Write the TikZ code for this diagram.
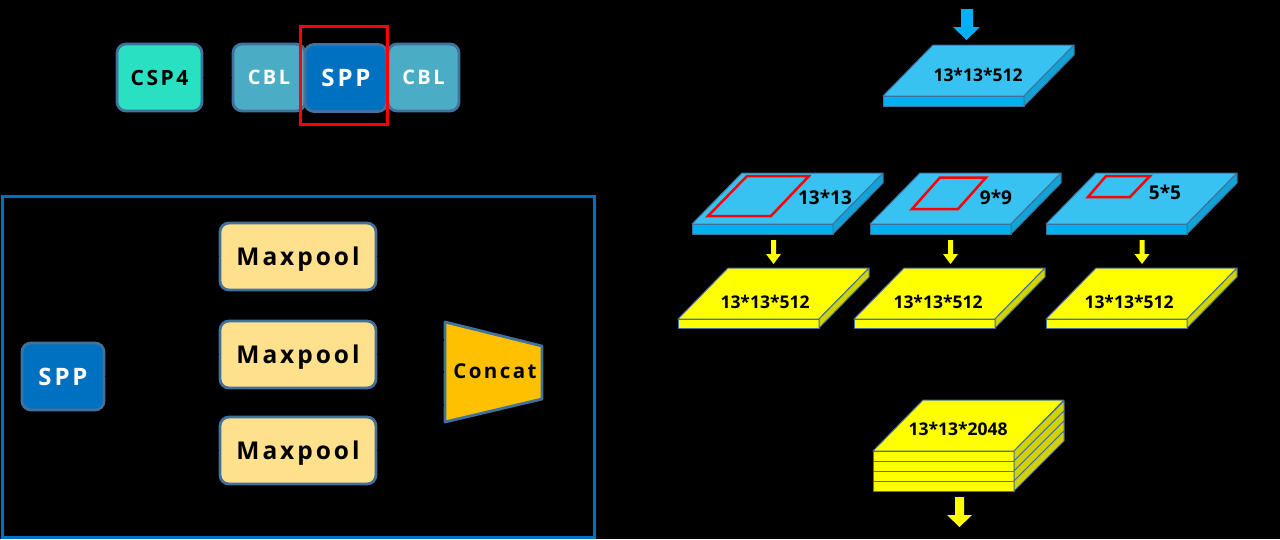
\documentclass[tikz,border=0pt]{standalone}
\usepackage{fontspec}
\setmainfont{Open Sans}
\newfontfamily\spacedfont[LetterSpace=12]{Open Sans}
\definecolor{edgeblue}{HTML}{41719C}
\definecolor{cspfill}{HTML}{2AE0C2}
\definecolor{cblfill}{HTML}{4BACC6}
\definecolor{sppfill}{HTML}{0070C0}
\definecolor{mpfill}{HTML}{FFE08C}
\definecolor{catfill}{HTML}{FFC000}
\definecolor{ltop}{HTML}{38C2F2}
\definecolor{lfront}{HTML}{00B0F0}
\definecolor{lside}{HTML}{12A2D8}
\definecolor{ytop}{HTML}{FFFF00}
\definecolor{yfront}{HTML}{FFFF00}
\definecolor{yside}{HTML}{D2D200}
\definecolor{arrowblue}{HTML}{00B0F0}
\tikzset{
  blk/.style={draw=edgeblue, line width=2.8pt, rounded corners=9pt, minimum height=67pt, inner sep=0pt},
  cspbox/.style={blk, fill=cspfill, minimum width=85pt, text=black, font=\spacedfont\bfseries\fontsize{21}{24}\selectfont},
  cblbox/.style={blk, fill=cblfill, minimum width=72pt, text=white, font=\spacedfont\bfseries\fontsize{20}{24}\selectfont},
  sppbox/.style={blk, fill=sppfill, minimum width=82pt, text=white, font=\spacedfont\bfseries\fontsize{24}{28}\selectfont},
  mpbox/.style={blk, fill=mpfill, minimum width=156pt, text=black, text height=17.5pt, text depth=0pt, font=\spacedfont\bfseries\fontsize{24.5}{28}\selectfont},
  cattxt/.style={inner sep=0pt, text=black, font=\spacedfont\bfseries\fontsize{20.5}{24}\selectfont},
  dimtxt/.style={inner sep=0pt, text=black, font=\bfseries\fontsize{17.5}{20}\selectfont},
  sizetxt/.style={inner sep=0pt, text=black, font=\bfseries\fontsize{19}{22}\selectfont},
  slabedge/.style={draw=edgeblue, line width=1pt, line join=round},
  conn/.style={draw=black, line width=1.5pt},
  redmark/.style={draw=red, line width=2.5pt},
}
% #1 x of front-left, #2 y of top edge, #3 top fill, #4 front fill, #5 side fill, #6 thickness
\newcommand\slabdraw[6]{%
  \filldraw[slabedge, fill=#3] ({#1+50},#2) -- ({#1+191},#2) -- ({#1+141},{#2+51}) -- (#1,{#2+51}) -- cycle;
  \filldraw[slabedge, fill=#4] (#1,{#2+51}) rectangle ({#1+141},{#2+51+#6});
  \filldraw[slabedge, fill=#5] ({#1+141},{#2+51}) -- ({#1+191},#2) -- ({#1+191},{#2+#6}) -- ({#1+141},{#2+51+#6}) -- cycle;
}
\newcommand\stackslab[1]{% #1 y of top of this slab
  \filldraw[slabedge, fill=yfront] (873,#1) rectangle (1014,{#1+10});
  \filldraw[slabedge, fill=yside] (1014,#1) -- (1064,{#1-50}) -- (1064,{#1-40}) -- (1014,{#1+10}) -- cycle;
}
\begin{document}
\begin{tikzpicture}[x=1pt,y=-1pt]
\useasboundingbox (0,0) rectangle (1280,539);
\fill[black] (0,0) rectangle (1280,539);

% ---- top row ----
\node[cspbox] (csp) at (159.5,77.5) {CSP4};
\node[cblbox] (cbla) at (269,77.5) {CBL};
\node[cblbox, minimum width=71pt] (cblb) at (423.5,77.5) {CBL};
\node[sppbox] (sppa) at (346,78) {SPP};
\draw[conn] (csp.east) -- (cbla.west);
\draw[draw=red, line width=3pt] (300,26) rectangle (387,124);

% ---- left panel ----
\draw[draw=sppfill, line width=3pt] (2,196) rectangle (594,537);
\node[sppbox] (sppb) at (63,376.5) {SPP};
\node[mpbox] (mpa) at (298,256.5) {Maxpool};
\node[mpbox] (mpb) at (298,354.5) {Maxpool};
\node[mpbox] (mpc) at (298,450.5) {Maxpool};
\filldraw[draw=edgeblue, line width=2.8pt, line join=round, fill=catfill]
  (445,322) -- (542,346) -- (542,399) -- (445,422) -- cycle;
\node[cattxt] (cat) at (495,371) {Concat};
\coordinate (cina) at (444,340);
\coordinate (cinb) at (444,372);
\coordinate (cinc) at (444,405);
\draw[conn] (sppb.east) -- (160,376.5) |- (mpa.west);
\draw[conn] (sppb.east) -- (160,376.5) |- (mpb.west);
\draw[conn] (sppb.east) -- (160,376.5) |- (mpc.west);
\draw[conn] (mpa.east) -- (410,256.5) |- (cina);
\draw[conn] (mpb.east) -- (410,354.5) |- (cinb);
\draw[conn] (mpc.east) -- (410,450.5) |- (cinc);

% ---- right side: input layer ----
\fill[arrowblue] (961,9) -- (973,9) -- (973,27) -- (980,27) -- (966.5,40) -- (953,27) -- (961,27) -- cycle;
\slabdraw{883}{45}{ltop}{lfront}{lside}{10}
\node[dimtxt] (tin) at (978,75) {13*13*512};

% ---- pooling layers ----
\slabdraw{692}{173}{ltop}{lfront}{lside}{10}
\slabdraw{870}{173}{ltop}{lfront}{lside}{10}
\slabdraw{1046}{173}{ltop}{lfront}{lside}{10}
\draw[redmark, line join=miter] (747,176) -- (809,176) -- (771,216) -- (708,216) -- cycle;
\draw[redmark, line join=miter] (940,177.5) -- (986,177.5) -- (958,209) -- (912,209) -- cycle;
\draw[redmark, line join=miter] (1106,176) -- (1150,176) -- (1130,197) -- (1088,197) -- cycle;
\node[sizetxt] (pa) at (825,197) {13*13};
\node[sizetxt] (pb) at (996,197) {9*9};
\node[sizetxt] (pc) at (1165,192) {5*5};

% ---- small arrows ----
\foreach \cx in {773.5,950.5,1142} {
  \fill[ytop] ({\cx-2.5},240) -- ({\cx+2.5},240) -- ({\cx+2.5},254) -- ({\cx+7.5},254) -- (\cx,264) -- ({\cx-7.5},254) -- ({\cx-2.5},254) -- cycle;
}

% ---- yellow outputs ----
\slabdraw{678}{268}{ytop}{yfront}{yside}{9}
\slabdraw{854}{268}{ytop}{yfront}{yside}{9}
\slabdraw{1046}{268}{ytop}{yfront}{yside}{9}
\node[dimtxt] (ya) at (765,302) {13*13*512};
\node[dimtxt] (yb) at (938,302) {13*13*512};
\node[dimtxt] (yc) at (1129,302) {13*13*512};

% ---- concatenated stack ----
\filldraw[slabedge, fill=ytop] (923,400) -- (1064,400) -- (1014,451) -- (873,451) -- cycle;
\stackslab{451}
\stackslab{461}
\stackslab{471}
\stackslab{481}
\node[dimtxt] (ys) at (958,429) {13*13*2048};
\fill[ytop] (955,497) -- (964,497) -- (964,515) -- (972,515) -- (959.5,527) -- (947,515) -- (955,515) -- cycle;
\end{tikzpicture}
\end{document}
